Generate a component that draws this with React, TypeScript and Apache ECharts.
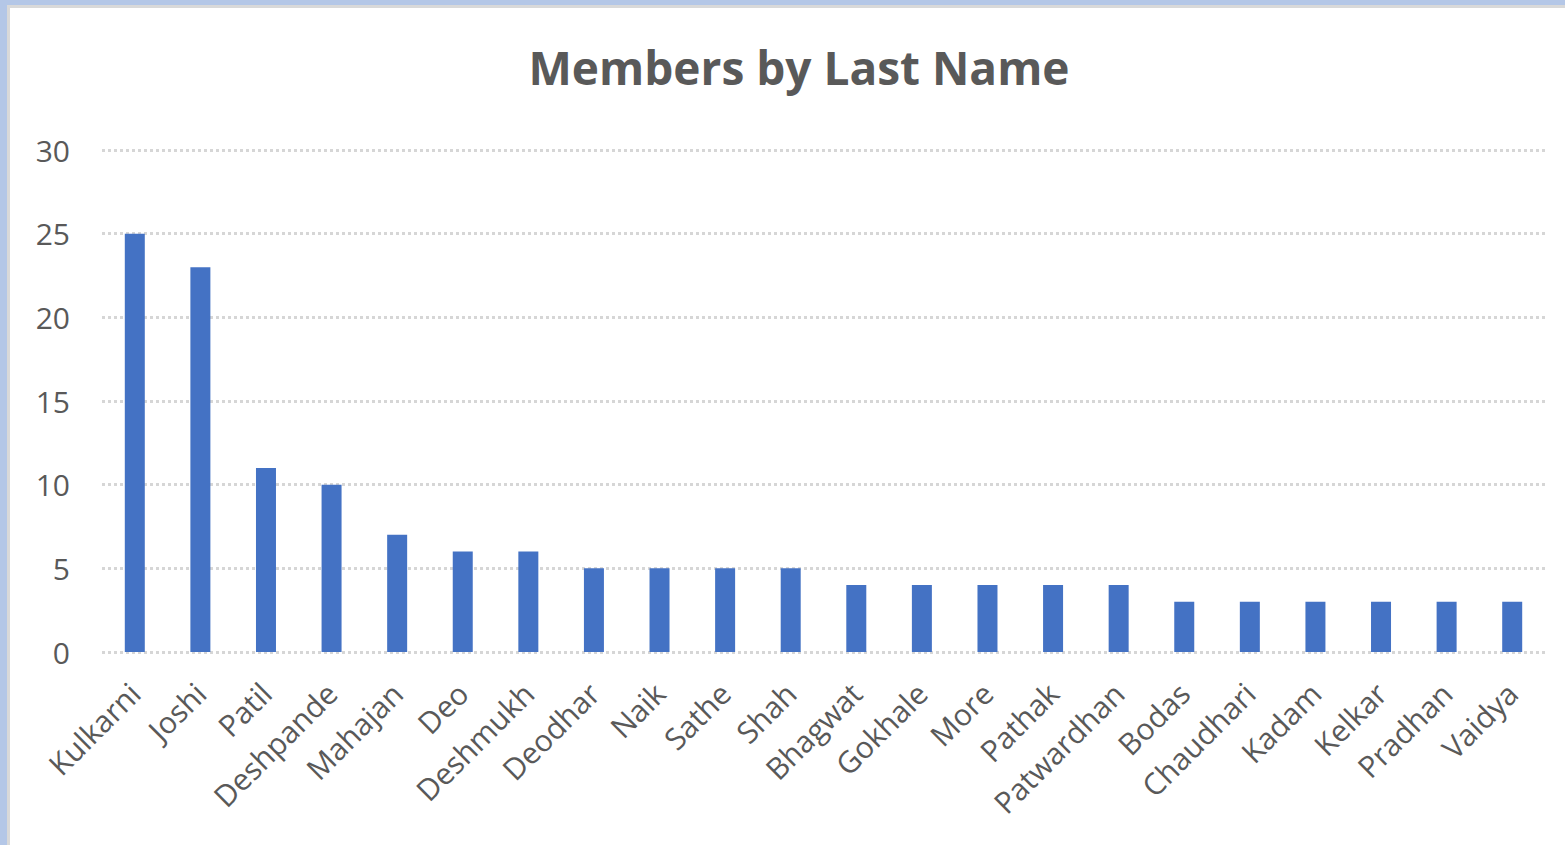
import React, { useEffect, useRef } from "react";
import * as echarts from "echarts";

const categories = [
  "Kulkarni", "Joshi", "Patil", "Deshpande", "Mahajan", "Deo", "Deshmukh",
  "Deodhar", "Naik", "Sathe", "Shah", "Bhagwat", "Gokhale", "More", "Pathak",
  "Patwardhan", "Bodas", "Chaudhari", "Kadam", "Kelkar", "Pradhan", "Vaidya",
];
const members = [25, 23, 11, 10, 7, 6, 6, 5, 5, 5, 5, 4, 4, 4, 4, 4, 3, 3, 3, 3, 3, 3];
const chartTitle = "Members by Last Name";

const FONT = "'Open Sans', 'Noto Sans', sans-serif";

export default function App() {
  const ref = useRef<HTMLDivElement>(null);
  useEffect(() => {
    if (!ref.current) return;
    const chart = echarts.init(ref.current, undefined, { renderer: "svg" });
    const grid = { color: "#d6d6d6", width: 3, type: [3, 3] as number[] };
    chart.setOption({
      animation: false,
      backgroundColor: "#ffffff",
      title: {
        text: chartTitle,
        left: 794,
        top: 39,
        textAlign: "center",
        textStyle: { fontFamily: FONT, fontSize: 46, fontWeight: "bold", color: "#595959" },
      },
      graphic: [
        { type: "rect", left: 0, top: 0, shape: { width: 1565, height: 5 }, style: { fill: "#b4c7e7" }, silent: true },
        { type: "rect", left: 7, top: 5, shape: { width: 1558, height: 3 }, style: { fill: "#d9d9d9" }, silent: true },
        { type: "rect", left: 0, top: 0, shape: { width: 7, height: 845 }, style: { fill: "#b4c7e7" }, silent: true },
        { type: "rect", left: 7, top: 5, shape: { width: 3, height: 840 }, style: { fill: "#d9d9d9" }, silent: true },
      ],
      grid: { left: 102, right: 20, top: 150, bottom: 193, containLabel: false },
      xAxis: {
        type: "category",
        data: categories,
        axisLine: { show: false },
        axisTick: { show: false },
        axisLabel: {
          rotate: 45,
          interval: 0,
          margin: 36,
          color: "#595959",
          fontFamily: FONT,
          fontSize: 30,
        },
      },
      yAxis: {
        type: "value",
        min: 0,
        max: 30,
        interval: 5,
        axisLine: { show: false },
        axisTick: { show: false },
        splitLine: { show: true, lineStyle: grid },
        axisLabel: { color: "#595959", fontFamily: FONT, fontSize: 30, margin: 32 },
      },
      series: [
        {
          type: "bar",
          data: members,
          barWidth: 20,
          itemStyle: { color: "#4472c4" },
        },
      ],
    });
    return () => chart.dispose();
  }, []);
  return (
    <div
      ref={ref}
      style={{ position: "absolute", left: 0, top: 0, width: 1565, height: 845 }}
    />
  );
}
